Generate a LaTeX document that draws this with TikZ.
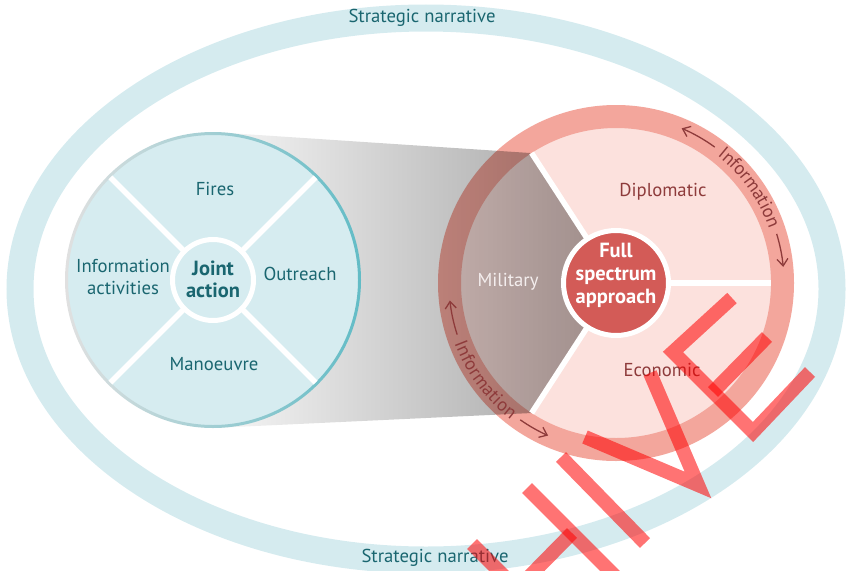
\documentclass[tikz,border=0pt]{standalone}
\usepackage{fontspec}
\setmainfont{PT Sans}
\usetikzlibrary{decorations.text,arrows.meta}
\definecolor{narr}{HTML}{D5EBEF}
\definecolor{lfill}{HTML}{D6ECF0}
\definecolor{tealtxt}{HTML}{1A6670}
\definecolor{tealedge}{HTML}{62BCC6}
\definecolor{ringred}{HTML}{F3A69C}
\definecolor{diskpink}{HTML}{FCE1DD}
\definecolor{corered}{HTML}{D35B57}
\definecolor{darkred}{HTML}{8E3B3B}
\definecolor{milwhite}{HTML}{F4EEEE}
\newcommand\lblfont{\fontsize{18.7}{22.5}\selectfont}
\newcommand\boldlblfont{\fontsize{20.5}{22.5}\selectfont\bfseries}
\newcommand\infofont{\fontsize{18.5}{20}\selectfont}
\begin{document}
\begin{tikzpicture}[x=1pt,y=1pt,
  lbl/.style={font=\lblfont, text=tealtxt, align=center, inner sep=0pt},
  redlbl/.style={font=\lblfont, text=darkred, align=center, inner sep=0pt},
  divider/.style={white, line width=5.5},
  infoarrow/.style={darkred, line width=1.3, -{Straight Barb[length=7pt,width=11pt]}},
  infotext/.style={decorate, decoration={text along path, text={|\infofont\color{darkred}|Information}, text align=center, raise=-5.5pt}},
  wmark/.style={draw=red, draw opacity=0.55, line width=14, line cap=butt, line join=miter}]
\useasboundingbox (0,0) rectangle (853,-570);
\clip (0,0) rectangle (853,-570);

% strategic narrative ring
\coordinate (O) at (426,-289);
\draw[narr, line width=27] (O) ellipse [x radius=406, y radius=271];
\node[lbl] (sntop) at (422,-18) {Strategic narrative};
\node[lbl] (snbot) at (435,-558) {Strategic narrative};

% full spectrum circle
\coordinate (R) at (616,-283);
\fill[diskpink] (R) circle (156);
\draw[ringred, line width=23] (R) circle (166.5);

% funnel (multiplied over the pink disc)
\begin{scope}[blend mode=multiply]
\shade[left color=black!3, right color=black!38] (213,-132) -- (530,-153) -- (R) -- (532,-413) -- (213,-428) -- cycle;
\end{scope}

% joint action circle
\coordinate (L) at (213,-280);
\fill[lfill] (L) circle (146.5);
\shade[left color=black!12, right color=tealedge, even odd rule] (L) circle (148) (L) circle (145);
\foreach \a in {45,135,225,315}
  \draw[divider] ([shift={(\a:40)}]L) -- ([shift={(\a:145)}]L);
\node[circle, fill=lfill, draw=white, line width=5, minimum size=81, inner sep=0pt] (ja) at (L) {};
\node[lbl, font=\boldlblfont] (jat) at (213,-279.5) {Joint\\action};
\node[lbl] (fires) at (215,-189) {Fires};
\node[lbl] (outr) at (300,-273.5) {Outreach};
\node[lbl] (man) at (214,-364.5) {Manoeuvre};
\node[lbl] (infa) at (123,-277) {Information\\activities};

% right circle dividers and core
\foreach \a in {0,123,237}
  \draw[divider] ([shift={(\a:50)}]R) -- ([shift={(\a:155)}]R);
\node[circle, fill=corered, draw=white, line width=5, minimum size=105, inner sep=0pt] (fsa) at (R) {};
\node[lbl, text=white, font=\fontsize{20.5}{23}\selectfont\bfseries] (fsat) at (616,-275.5) {Full\\spectrum\\approach};
\node[redlbl] (dip) at (663,-192) {Diplomatic};
\node[redlbl] (eco) at (662,-369.5) {Economic};
\node[lbl, text=milwhite] (mil) at (508,-282) {Military};

% information arrows
\draw[infoarrow] ([shift={(54:168)}]R) arc[start angle=54, end angle=67, radius=168];
\draw[infoarrow] ([shift={(17:168)}]R) arc[start angle=17, end angle=5.5, radius=168];
\path[infotext] ([shift={(53.5:168)}]R) arc[start angle=53.5, end angle=17.5, radius=168];
\draw[infoarrow] ([shift={(198:167)}]R) arc[start angle=198, end angle=186, radius=167];
\draw[infoarrow] ([shift={(235:167)}]R) arc[start angle=235, end angle=246, radius=167];
\path[infotext] ([shift={(198.5:167)}]R) arc[start angle=198.5, end angle=234.5, radius=167];

% watermark strokes
\draw[wmark] (561,-457) -- (645,-543);
\draw[wmark] (527,-488) -- (627,-588);
\draw[wmark] (472,-544) -- (572,-644);
\draw[wmark] (572,-533) -- (517,-589);
\draw[wmark] (585,-437) -- (698,-485) -- (650,-373);
\draw[wmark] (732,-298) -- (673,-352) -- (753,-432) -- (810,-372);
\draw[wmark] (713,-392) -- (767,-337);
\end{tikzpicture}
\end{document}
